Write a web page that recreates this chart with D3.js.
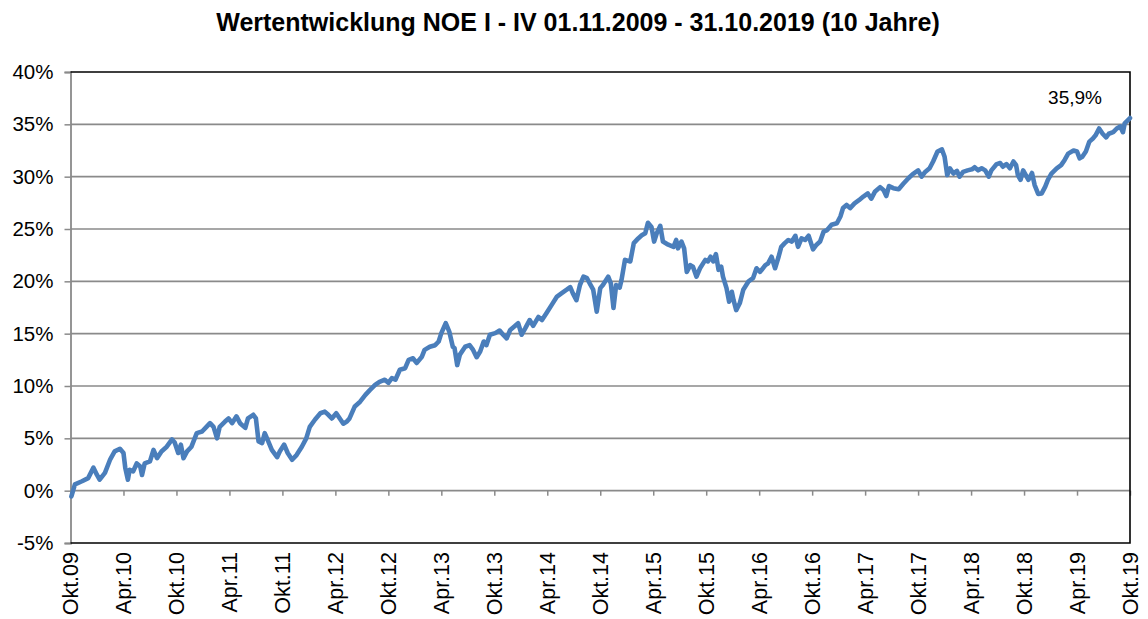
<!DOCTYPE html>
<html><head><meta charset="utf-8">
<script src="https://cdn.jsdelivr.net/npm/d3@7"></script>
<style>
html,body{margin:0;padding:0;background:#fff;}
svg{display:block;font-family:"Liberation Sans",Arial,sans-serif;}
</style></head><body>
<svg id="chart" width="1148" height="619"></svg>
<script>
const title = "Wertentwicklung NOE I - IV 01.11.2009 - 31.10.2019 (10 Jahre)";
const xTickLabels = ["Okt.09","Apr.10","Okt.10","Apr.11","Okt.11","Apr.12","Okt.12","Apr.13","Okt.13","Apr.14","Okt.14","Apr.15","Okt.15","Apr.16","Okt.16","Apr.17","Okt.17","Apr.18","Okt.18","Apr.19","Okt.19"];
const yTicks = [-5,0,5,10,15,20,25,30,35,40];
const endLabel = "35,9%";
// months since Okt.09
const months = [0.1,0.5,1.3,2.0,2.6,3.0,3.3,3.9,4.5,5.0,5.6,6.0,6.2,6.5,6.7,7.1,7.5,7.9,8.1,8.4,9.0,9.4,9.8,10.3,10.9,11.5,11.8,12.2,12.5,12.8,13.2,13.7,14.3,14.9,15.4,15.8,16.2,16.6,16.9,17.5,17.9,18.3,18.8,19.2,19.8,20.1,20.7,21.0,21.3,21.7,22.0,22.4,22.8,23.4,23.7,24.2,24.6,25.1,25.6,26.2,26.7,27.1,27.7,28.3,28.8,29.2,29.6,30.1,30.5,30.9,31.3,31.6,32.2,32.8,33.4,33.9,34.5,35.0,35.6,36.0,36.4,36.8,37.3,37.9,38.3,38.8,39.2,39.8,40.1,40.7,41.3,41.7,42.0,42.5,42.9,43.3,43.5,43.8,44.1,44.7,45.2,45.6,46.0,46.4,46.8,47.1,47.5,48.1,48.6,49.0,49.4,49.8,50.3,50.7,51.1,51.5,52.0,52.4,53.0,53.4,53.9,54.5,55.1,55.6,56.2,56.6,56.9,57.3,57.7,58.1,58.5,58.9,59.2,59.6,60.0,60.3,60.9,61.2,61.5,61.8,62.2,62.4,62.8,63.4,63.8,64.3,64.7,65.1,65.4,65.8,66.1,66.4,66.8,67.1,67.7,68.3,68.6,68.8,69.2,69.5,69.8,70.2,70.5,70.9,71.3,71.9,72.2,72.5,72.8,73.1,73.4,73.7,73.9,74.3,74.6,74.9,75.1,75.4,75.8,76.2,76.8,77.3,77.7,78.1,78.7,79.0,79.4,79.8,80.2,80.5,80.9,81.3,81.7,82.1,82.4,82.8,83.2,83.6,84.1,84.5,84.9,85.3,85.7,86.2,86.8,87.2,87.5,87.9,88.3,88.8,89.3,89.8,90.3,90.7,91.1,91.7,92.1,92.4,92.7,93.2,93.8,94.3,94.9,95.4,96.0,96.4,96.8,97.3,97.7,98.2,98.7,99.0,99.3,99.6,100.0,100.4,100.7,101.1,101.6,102.1,102.4,102.8,103.2,103.6,104.0,104.3,104.9,105.3,105.6,106.0,106.4,106.8,107.1,107.3,107.6,107.9,108.2,108.5,108.9,109.2,109.6,110.0,110.4,110.7,111.1,111.7,112.2,112.6,113.0,113.6,114.0,114.3,114.6,115.0,115.4,115.8,116.1,116.5,116.9,117.3,117.6,118.1,118.5,118.9,119.2,119.4,120.0];
const values = [-0.55,0.6,0.9,1.2,2.2,1.5,1.05,1.7,3.0,3.75,4.0,3.6,2.2,1.05,2.0,1.85,2.6,2.3,1.5,2.6,2.8,3.9,3.1,3.75,4.2,4.9,4.6,3.6,4.4,3.1,3.75,4.2,5.5,5.65,6.1,6.45,6.1,5.0,6.1,6.6,6.9,6.45,7.1,6.45,6.0,6.9,7.25,6.9,4.7,4.55,5.5,4.7,3.9,3.2,3.75,4.4,3.6,2.95,3.4,4.2,5.0,6.1,6.8,7.4,7.55,7.25,6.9,7.4,6.9,6.4,6.6,6.9,8.05,8.5,9.15,9.6,10.1,10.4,10.6,10.3,10.75,10.6,11.55,11.7,12.5,12.65,12.2,12.8,13.45,13.75,13.9,14.25,15.05,16.0,15.2,13.75,13.6,12.0,13.0,13.75,13.9,13.45,12.75,13.3,14.25,13.9,14.9,15.05,15.3,14.9,14.55,15.35,15.7,16.0,14.9,15.5,16.3,15.75,16.6,16.3,16.95,17.75,18.55,18.85,19.2,19.45,18.85,18.2,19.65,20.45,20.3,19.65,19.2,17.1,19.35,19.65,20.45,19.8,17.45,19.65,19.4,20.1,22.05,21.9,23.65,24.1,24.4,24.6,25.6,25.2,23.8,24.6,25.3,23.8,23.5,23.3,23.95,23.15,23.8,23.15,20.9,21.55,21.4,20.45,21.25,22.05,21.9,22.35,21.9,22.6,21.1,21.4,20.45,19.35,18.05,19.0,18.2,17.25,17.9,19.2,20.0,20.3,21.25,20.9,21.55,21.7,22.35,21.25,22.35,23.3,23.65,23.95,23.8,24.35,23.3,24.1,23.95,24.35,23.05,23.5,23.8,24.75,24.9,25.4,25.55,26.2,27.0,27.3,27.0,27.45,27.75,28.1,28.4,27.9,28.55,29.0,28.7,28.15,29.1,28.9,28.8,29.3,29.85,30.25,30.6,30.0,30.45,30.8,31.45,32.4,32.6,31.9,30.15,30.8,30.3,30.55,30.0,30.45,30.6,30.7,30.9,30.6,30.8,30.6,30.0,30.6,31.2,31.3,30.95,31.2,30.8,31.45,31.1,30.15,29.7,30.6,30.15,29.7,30.35,29.2,28.35,28.4,29.05,29.7,30.3,30.8,31.1,31.6,32.2,32.5,32.4,31.75,31.9,32.4,33.35,33.65,33.95,34.6,34.1,33.75,34.1,34.25,34.6,34.8,34.25,35.1,35.6];

(function(){
const svg = d3.select("#chart");
const L = 70.5, R = 1130, T = 72, B = 543;
const x = d3.scaleLinear().domain([0,120]).range([L,R]);
const y = d3.scaleLinear().domain([-5,40]).range([B,T]);
const tickMonths = xTickLabels.map((d,i)=>i*6);

svg.append("text").attr("x",578).attr("y",31).attr("text-anchor","middle")
  .attr("font-size",25).attr("font-weight","bold").attr("fill","#000").text(title);

svg.append("g").selectAll("line").data(yTicks.filter(v=>v>-5&&v<40)).join("line")
  .attr("x1",L).attr("x2",R).attr("y1",d=>y(d)).attr("y2",d=>y(d))
  .attr("stroke","#8a8a8a").attr("stroke-width",1.6);

const yAxis = d3.axisLeft(y).tickValues(yTicks).tickSize(6).tickFormat(d=>d+"%");
const gy = svg.append("g").attr("transform",`translate(${L},0)`).call(yAxis);
gy.select(".domain").attr("stroke","#8a8a8a").attr("stroke-width",1.8);
gy.selectAll(".tick line").attr("stroke","#8a8a8a").attr("stroke-width",1.5);
gy.selectAll(".tick text").attr("font-size",20.5).attr("fill","#000").attr("x",-17)
  .attr("font-family","Liberation Sans, Arial, sans-serif");

const xAxis = d3.axisBottom(x).tickValues(tickMonths).tickSize(5).tickFormat("");
const gx = svg.append("g").attr("transform",`translate(0,${y(0)})`).call(xAxis);
gx.select(".domain").remove();
gx.selectAll(".tick line").attr("stroke","#8a8a8a").attr("stroke-width",1.5);

svg.append("g").selectAll("text").data(tickMonths).join("text")
  .attr("transform",d=>`translate(${x(d)+7.5},${B+9}) rotate(-90)`)
  .attr("text-anchor","end").attr("font-size",21.5).attr("fill","#000")
  .text((d,i)=>xTickLabels[i]);

svg.append("path").attr("d",`M${L},${T}H${R}V${B}H${L}`)
  .attr("fill","none").attr("stroke","#000").attr("stroke-width",1.6);

const n = Math.min(months.length, values.length);
const data = d3.range(n).map(i=>[months[i],values[i]]);
svg.append("path").datum(data)
  .attr("d",d3.line().x(d=>x(d[0])).y(d=>y(d[1])))
  .attr("fill","none").attr("stroke","#4a7ebb").attr("stroke-width",4.6)
  .attr("stroke-linejoin","round").attr("stroke-linecap","round");

svg.append("text").attr("x",1075).attr("y",104).attr("text-anchor","middle")
  .attr("font-size",19).attr("fill","#000").text(endLabel);
})();
</script>
</body></html>
